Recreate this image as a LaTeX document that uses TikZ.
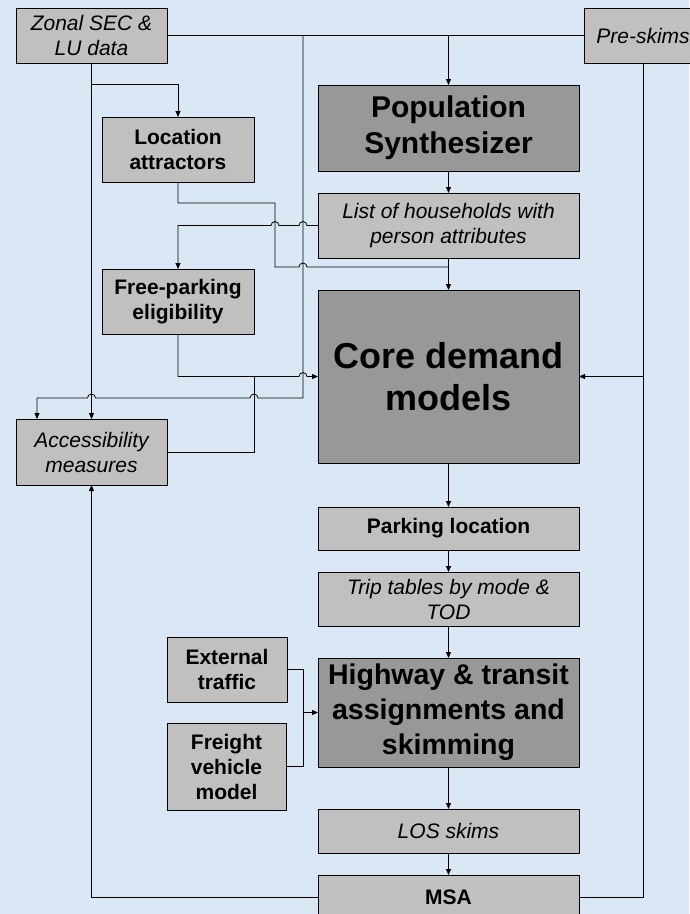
\documentclass[tikz,border=0pt]{standalone}
\usepackage{fontspec}
\setmainfont{Liberation Sans}
\usetikzlibrary{arrows.meta,shadows}

\definecolor{bgblue}{RGB}{218,231,245}
\definecolor{lightbox}{RGB}{192,192,192}
\definecolor{darkbox}{RGB}{152,152,152}

\tikzset{
  box/.style={draw=black, line width=0.9pt, inner sep=0pt, outer sep=0pt,
    align=center, text=black,
    drop shadow={shadow xshift=0.8pt, shadow yshift=-1.2pt, fill=black!55, opacity=1}},
  lbox/.style={box, fill=lightbox},
  dbox/.style={box, fill=darkbox},
  itxt/.style={font=\fontsize{21}{25}\selectfont\itshape},
  btxt/.style={font=\fontsize{21}{25}\selectfont\bfseries},
  conn/.style={draw=black, line width=0.8pt},
  arr/.style={conn, -{Triangle[length=6pt,width=5pt]}},
}

\begin{document}
\begin{tikzpicture}[x=1pt,y=1pt]
\useasboundingbox (0,0) rectangle (689,-914);
\fill[bgblue] (0,0) rectangle (689,-914);

% inputs
\node[lbox, itxt, minimum width=151pt, minimum height=55pt] (zonal) at (91.5,-35.5) {Zonal SEC \&\\LU data};
\node[lbox, itxt, minimum width=118pt, minimum height=55pt] (preskims) at (643,-35.5) {Pre-skims};

% left column
\node[lbox, btxt, minimum width=152pt, minimum height=65pt] (loc) at (178,-149.5) {Location\\attractors};
\node[lbox, btxt, minimum width=152pt, minimum height=65pt] (free) at (178,-301.5) {Free-parking\\eligibility};
\node[lbox, itxt, minimum width=151pt, minimum height=66pt] (access) at (91.5,-452) {Accessibility\\measures};
\node[lbox, btxt, minimum width=120pt, minimum height=65pt] (ext) at (227,-669.5) {External\\traffic};
\node[lbox, btxt, minimum width=119pt, minimum height=87pt] (freight) at (226.5,-766.5) {Freight\\vehicle\\model};

% main chain
\node[dbox, font=\fontsize{30}{36}\selectfont\bfseries, minimum width=261pt, minimum height=86pt] (pop) at (448.5,-128) {Population\\Synthesizer};
\node[lbox, itxt, minimum width=261pt, minimum height=65pt] (list) at (448.5,-225.5) {List of households with\\person attributes};
\node[dbox, font=\fontsize{36}{42}\selectfont\bfseries, minimum width=261pt, minimum height=173pt] (core) at (448.5,-376.5) {Core demand\\models};
\node[lbox, btxt, minimum width=261pt, minimum height=43pt] (park) at (448.5,-528.5) {Parking location};
\node[lbox, itxt, minimum width=261pt, minimum height=54pt] (trip) at (448.5,-599) {Trip tables by mode \&\\TOD};
\node[dbox, font=\fontsize{28.5}{35}\selectfont\bfseries, minimum width=261pt, minimum height=109pt] (hwy) at (448.5,-712.5) {Highway \& transit\\assignments and\\skimming};
\node[lbox, itxt, minimum width=261pt, minimum height=44pt] (los) at (448.5,-831) {LOS skims};
\node[lbox, btxt, minimum width=261pt, minimum height=44pt] (msa) at (448.5,-897) {MSA};

% bends and junctions of the connectors
\coordinate (topbus) at (303,-35.5);
\coordinate (accbus) at (303,-398);
\coordinate (accin) at (37,-398);
\coordinate (zbranch) at (91.5,-84);
\coordinate (locbend) at (275,-203);
\coordinate (locjoin) at (448.5,-267);
\coordinate (accjoin) at (254,-376.5);
\coordinate (extbus) at (303,-669.5);

% zonal data and pre-skims
\draw[conn] (zonal.east) -- (preskims.west);
\draw[arr] (zonal.east -| pop.north) -- (pop.north);
\draw[arr] (topbus) -- (accbus)
  -- ([xshift=4pt]accbus -| accjoin) arc[start angle=0,end angle=180,radius=4pt]
  -- ([xshift=4pt]accbus -| zonal.south) arc[start angle=0,end angle=180,radius=4pt]
  -- (accin) -- (accin |- access.north);
\draw[arr] (zonal.south) -- (access.north);
\draw[arr] (zbranch) -- (zbranch -| loc.north) -- (loc.north);

% synthesizer to core demand models
\draw[arr] (pop.south) -- (list.north);
\draw[arr] (list.south) -- (core.north);
\draw[conn] (loc.south) -- (loc.south |- locbend) -- (locbend) -- (locbend |- locjoin)
  -- ([xshift=-4pt]locjoin -| topbus) arc[start angle=180,end angle=0,radius=4pt]
  -- (locjoin);
\draw[arr] (list.west)
  -- ([xshift=4pt]list.west -| topbus) arc[start angle=0,end angle=180,radius=4pt]
  -- ([xshift=4pt]list.west -| locbend) arc[start angle=0,end angle=180,radius=4pt]
  -- (list.west -| free.north) -- (free.north);
\draw[arr] (free.south) -- (free.south |- core.west)
  -- ([xshift=-4pt]core.west -| topbus) arc[start angle=180,end angle=0,radius=4pt]
  -- (core.west);
\draw[conn] (access.east) -- (access.east -| accjoin) -- (accjoin);

% skims feedback
\draw[conn] (preskims.south) -- (preskims.south |- msa.east) -- (msa.east);
\draw[arr] (preskims.south |- core.east) -- (core.east);
\draw[arr] (msa.west) -- (msa.west -| access.south) -- (access.south);

% main chain
\draw[arr] (core.south) -- (park.north);
\draw[arr] (park.south) -- (trip.north);
\draw[arr] (trip.south) -- (hwy.north);
\draw[arr] (hwy.south) -- (los.north);
\draw[arr] (los.south) -- (msa.north);

% external and freight demand
\draw[conn] (ext.east) -- (extbus) -- (extbus |- freight.east) -- (freight.east);
\draw[arr] (extbus |- hwy.west) -- (hwy.west);
\end{tikzpicture}
\end{document}
